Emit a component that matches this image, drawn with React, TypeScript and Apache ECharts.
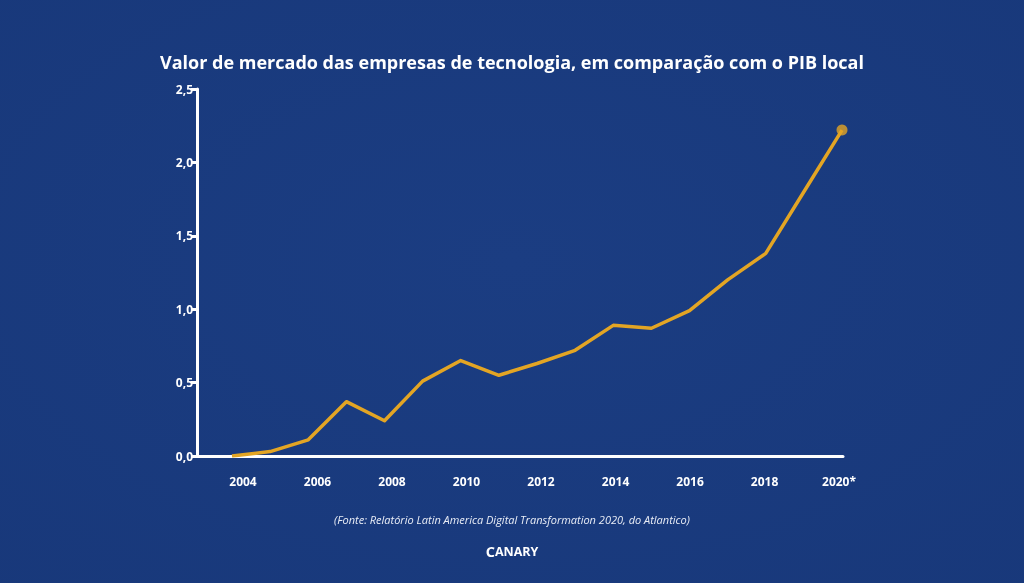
import React, { useEffect, useRef } from "react";
import * as echarts from "echarts";

const years = [2004, 2005, 2006, 2007, 2008, 2009, 2010, 2011, 2012, 2013, 2014, 2015, 2016, 2017, 2018, 2019, 2020];
const values = [0.0, 0.03, 0.11, 0.37, 0.24, 0.51, 0.65, 0.55, 0.63, 0.72, 0.89, 0.87, 0.99, 1.2, 1.38, 1.8, 2.22];
const tickYears = [2004, 2006, 2008, 2010, 2012, 2014, 2016, 2018, 2020];
const yTicks = [0, 0.5, 1, 1.5, 2, 2.5];

const titleText = "Valor de mercado das empresas de tecnologia, em comparação com o PIB local";
const sourceText = "(Fonte: Relatório Latin America Digital Transformation 2020, do Atlantico)";

export default function App() {
  const ref = useRef<HTMLDivElement>(null);
  useEffect(() => {
    if (!ref.current) return;
    const chart = echarts.init(ref.current, undefined, { renderer: "svg" });
    const font = "Open Sans";
    const pts = years.map((y, i) => [y, values[i]]);
    const last = pts[pts.length - 1];
    chart.setOption({
      animation: false,
      backgroundColor: {
        type: "radial",
        x: 0.5,
        y: 0.45,
        r: 0.8,
        colorStops: [
          { offset: 0, color: "#1b3d82" },
          { offset: 1, color: "#18387a" },
        ],
      },
      title: {
        text: titleText,
        left: "center",
        top: 48,
        textStyle: { color: "#ffffff", fontFamily: font, fontWeight: "bold", fontSize: 18 },
      },
      grid: { left: 197, right: 181, top: 89, bottom: 127, containLabel: false },
      xAxis: [
        {
          type: "value",
          min: 2003.082,
          max: 2020.026,
          axisLine: { show: true, lineStyle: { color: "#ffffff", width: 3 } },
          axisTick: { show: false },
          axisLabel: { show: false },
          splitLine: { show: false },
        },
        {
          type: "value",
          position: "bottom",
          min: 2002.765,
          max: 2020.107,
          axisLine: { show: false },
          axisTick: { show: false },
          splitLine: { show: false },
          axisLabel: {
            show: true,
            customValues: tickYears,
            margin: 19,
            color: "#ffffff",
            fontFamily: font,
            fontWeight: "bold",
            fontSize: 12,
            formatter: (v: number) => (v === 2020 ? "2020*" : String(v)),
          },
        },
      ],
      yAxis: {
        type: "value",
        min: 0,
        max: 2.5,
        interval: 0.5,
        axisLine: { show: true, lineStyle: { color: "#ffffff", width: 3 } },
        axisTick: { show: true, length: 6, lineStyle: { color: "#ffffff", width: 3 }, customValues: yTicks },
        splitLine: { show: false },
        axisLabel: {
          margin: 4,
          color: "#ffffff",
          fontFamily: font,
          fontWeight: "bold",
          fontSize: 12,
          formatter: (v: number) => v.toFixed(1).replace(".", ","),
        },
      },
      series: [
        {
          type: "line",
          xAxisIndex: 0,
          data: pts,
          symbol: "none",
          lineStyle: { color: "#e3a524", width: 3.5, join: "round" },
          z: 3,
        },
        {
          type: "scatter",
          xAxisIndex: 0,
          data: [last],
          symbol: "circle",
          symbolSize: 11,
          itemStyle: { color: "#e3a524" },
          z: 4,
        },
      ],
      graphic: [
        {
          type: "text",
          left: "center",
          top: 514,
          style: {
            text: sourceText,
            fill: "#e9edf6",
            font: `italic 11px "${font}"`,
          },
        },
        {
          type: "text",
          left: "center",
          top: 544,
          style: {
            text: "{a|C}{b|ANARY}",
            fill: "#ffffff",
            rich: {
              a: { fontSize: 14.5, fontWeight: "bold", fontFamily: font, fill: "#ffffff" },
              b: { fontSize: 12.5, fontWeight: "bold", fontFamily: font, fill: "#ffffff" },
            },
          },
        },
      ],
    });
    return () => chart.dispose();
  }, []);
  return <div ref={ref} style={{ position: "fixed", left: 0, top: 0, width: 1024, height: 583 }} />;
}
